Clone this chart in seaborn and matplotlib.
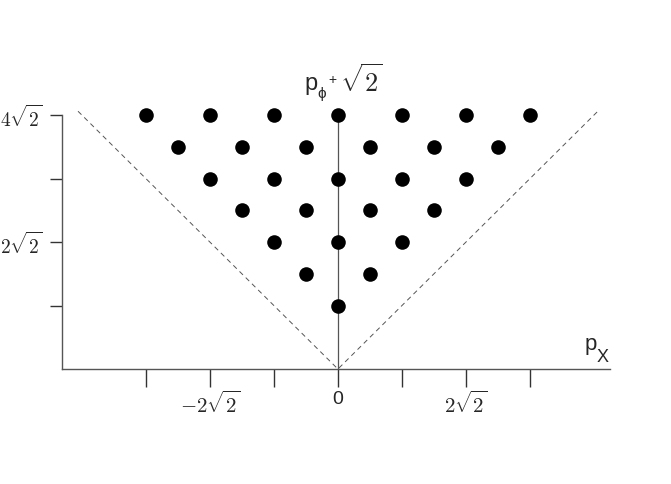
import matplotlib
matplotlib.use("Agg")
import matplotlib.pyplot as plt
import seaborn as sns
import pandas as pd

# lattice points, in units of sqrt(2)
px = [-3, -2, -1, 0, 1, 2, 3,
      -2.5, -1.5, -0.5, 0.5, 1.5, 2.5,
      -2, -1, 0, 1, 2,
      -1.5, -0.5, 0.5, 1.5,
      -1, 0, 1,
      -0.5, 0.5,
      0]
py = [4, 4, 4, 4, 4, 4, 4,
      3.5, 3.5, 3.5, 3.5, 3.5, 3.5,
      3, 3, 3, 3, 3,
      2.5, 2.5, 2.5, 2.5,
      2, 2, 2,
      1.5, 1.5,
      1]

xticks = [-3, -2, -1, 0, 1, 2, 3]
xticklabels = ["", r"$-2\sqrt{2}$", "", "0", "", r"$2\sqrt{2}$", ""]
yticks = [1, 2, 3, 4]
yticklabels = ["", r"$2\sqrt{2}$", "", r"$4\sqrt{2}$"]
cone_edge = 4.06

df = pd.DataFrame({"px": px, "py": py})

sns.set_style("white")
plt.rcParams["mathtext.fontset"] = "cm"
sans = ["Liberation Sans", "DejaVu Sans"]

fig = plt.figure(figsize=(6.71, 4.85), dpi=100)
ax = fig.add_axes([0.0924, 0.237, 0.8167, 0.563])

# light-cone boundaries and the p_x = 0 axis
ax.plot([-cone_edge, 0, cone_edge], [cone_edge, 0, cone_edge],
        ls=(0, (5, 4)), lw=0.7, color="#555555", zorder=1)
ax.plot([0, 0], [0, 4], lw=0.9, color="#555555", zorder=1)

sns.scatterplot(data=df, x="px", y="py", s=110, color="black",
                edgecolor="black", linewidth=0, ax=ax, zorder=3)

ax.set_xlim(-4.31, 4.25)
ax.set_ylim(0, 4.3)
ax.set_xticks(xticks)
ax.set_xticklabels(xticklabels, fontsize=15)
for lab in ax.get_xticklabels():
    if lab.get_text() == "0":
        lab.set_family(sans)
        lab.set_fontsize(14)
ax.set_yticks(yticks)
ax.set_yticklabels(yticklabels, fontsize=14)
ax.tick_params(axis="x", direction="out", length=13, width=1,
               color="#333333", pad=2, bottom=True)
ax.tick_params(axis="y", direction="out", length=9, width=1,
               color="#333333", pad=5, left=True)
ax.set_xlabel("")
ax.set_ylabel("")

for side in ["top", "right"]:
    ax.spines[side].set_visible(False)
ax.spines["left"].set_bounds(0, 4)
for side in ["left", "bottom"]:
    ax.spines[side].set_color("#555555")
    ax.spines[side].set_linewidth(1)

ax.text(-0.42, 4.50, "p", fontsize=17, family=sans, ha="center", va="center")
ax.text(-0.25, 4.34, "ϕ", fontsize=11, family=sans, ha="center", va="center")
ax.text(-0.08, 4.57, "+", fontsize=10, family=sans, ha="center", va="center")
ax.text(0.36, 4.55, r"$\sqrt{\mathsf{2}}$", fontsize=19, ha="center", va="center")
ax.text(3.95, 0.40, "p", fontsize=16, family=sans, ha="center", va="center")
ax.text(4.14, 0.19, "X", fontsize=13, family=sans, ha="center", va="center")

fig.savefig("out.png", dpi=100)
